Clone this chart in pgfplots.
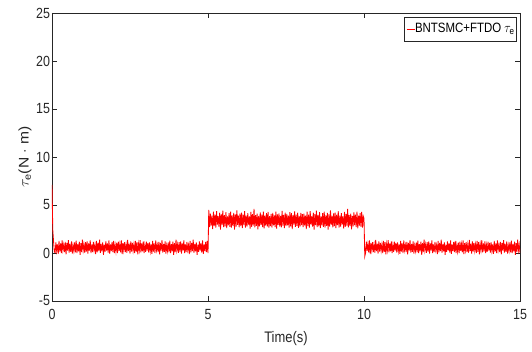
\documentclass[border=0pt]{standalone}
\usepackage{fontspec}
\setmainfont{Liberation Sans}
\usepackage{amsmath}
\usepackage{graphicx}
\usepackage{xcolor}
\usepackage{pgfplots}
\usepackage{pgfplotstable}
\pgfplotsset{compat=1.18}
\newcommand{\vs}[1]{\scalebox{1}[1.18]{#1}}
% segment 1 (0..5 s), segment 2 (5..10 s), segment 3 (10..15 s); dt = 0.025 s
\pgfplotstableread[row sep=\\]{
y\\
7.1\\ 2.4\\ 1.2\\ 0.1\\
0.05\\ 1.1\\ 0.2\\ 0.9\\ -0.1\\ 1.25\\ 0.15\\ 1.0\\ 0.0\\ 1.3\\ 0.3\\ 0.85\\ 0.1\\ 1.15\\ -0.15\\ 1.05\\ 0.25\\ 1.35\\ 0.05\\ 0.95\\ 0.12\\ 1.2\\ -0.05\\ 0.8\\ 0.22\\ 1.1\\ 0.08\\ 1.28\\ 0.0\\ 0.92\\ 0.18\\ 1.18\\ -0.2\\ 1.02\\ 0.1\\ 1.4\\ 0.28\\ 0.88\\ 0.02\\ 1.12\\
0.15\\ 1.2\\ -0.05\\ 1.0\\ 0.25\\ 1.32\\ 0.0\\ 0.9\\ 0.1\\ 1.15\\ 0.3\\ 0.82\\ -0.12\\ 1.25\\ 0.08\\ 1.05\\ 0.2\\ 1.38\\ 0.02\\ 0.95\\ 0.18\\ 1.1\\ -0.18\\ 0.87\\ 0.12\\ 1.22\\ 0.26\\ 1.0\\ 0.04\\ 1.3\\ -0.08\\ 0.9\\ 0.2\\ 1.16\\ 0.1\\ 1.27\\ 0.0\\ 0.84\\ 0.16\\ 1.08\\
0.0\\ 1.18\\ 0.22\\ 0.92\\ 0.06\\ 1.3\\ -0.12\\ 1.02\\ 0.28\\ 1.12\\ 0.1\\ 0.86\\ 0.03\\ 1.36\\ 0.2\\ 0.97\\ -0.06\\ 1.2\\ 0.14\\ 1.06\\ 0.24\\ 0.9\\ 0.0\\ 1.26\\ 0.12\\ 1.14\\ -0.15\\ 0.94\\ 0.3\\ 1.33\\ 0.07\\ 1.0\\ 0.18\\ 1.21\\ -0.02\\ 0.83\\ 0.11\\ 1.17\\ 0.26\\ 1.04\\
0.05\\ 1.1\\ 0.2\\ 0.9\\ -0.1\\ 1.25\\ 0.15\\ 1.0\\ 0.0\\ 1.3\\ 0.3\\ 0.85\\ 0.1\\ 1.15\\ -0.15\\ 1.05\\ 0.25\\ 1.35\\ 0.05\\ 0.95\\ 0.12\\ 1.2\\ -0.05\\ 0.8\\ 0.22\\ 1.1\\ 0.08\\ 1.28\\ 0.0\\ 0.92\\ 0.18\\ 1.18\\ -0.2\\ 1.02\\ 0.1\\ 1.4\\ 0.28\\ 0.88\\ 0.02\\ 1.12\\
0.15\\ 1.2\\ -0.05\\ 1.0\\ 0.25\\ 1.32\\ 0.0\\ 0.9\\ 0.1\\ 1.15\\ 0.3\\ 0.82\\ -0.12\\ 1.25\\ 0.08\\ 1.05\\ 0.2\\ 1.38\\ 0.02\\ 0.95\\ 0.18\\ 1.1\\ -0.18\\ 0.87\\ 0.12\\ 1.22\\ 0.26\\ 1.0\\ 0.04\\ 1.3\\ -0.08\\ 0.9\\ 0.2\\ 1.16\\ 0.1\\ 1.27\\ 0.0\\
4.5\\
2.7\\ 4.1\\ 2.85\\ 3.9\\ 2.5\\ 4.3\\ 2.8\\ 4.0\\ 2.65\\ 4.35\\ 2.95\\ 3.85\\ 2.75\\ 4.2\\ 2.45\\ 4.05\\ 2.9\\ 4.4\\ 2.7\\ 3.95\\ 2.78\\ 4.25\\ 2.6\\ 3.8\\ 2.88\\ 4.15\\ 2.72\\ 4.3\\ 2.65\\ 3.92\\ 2.83\\ 4.18\\ 2.45\\ 4.02\\ 2.75\\ 4.45\\ 2.93\\ 3.88\\ 2.67\\ 4.12\\
2.8\\ 4.2\\ 2.6\\ 4.0\\ 2.9\\ 4.35\\ 2.65\\ 3.9\\ 2.75\\ 4.15\\ 2.95\\ 3.82\\ 2.53\\ 4.28\\ 2.73\\ 4.05\\ 2.85\\ 4.6\\ 2.67\\ 3.95\\ 2.83\\ 4.1\\ 2.47\\ 3.87\\ 2.77\\ 4.22\\ 2.91\\ 4.0\\ 2.69\\ 4.32\\ 2.57\\ 3.9\\ 2.85\\ 4.16\\ 2.75\\ 4.27\\ 2.65\\ 3.84\\ 2.81\\ 4.08\\
2.65\\ 4.18\\ 2.87\\ 3.92\\ 2.71\\ 4.3\\ 2.53\\ 4.02\\ 2.93\\ 4.12\\ 2.75\\ 3.86\\ 2.68\\ 4.38\\ 2.85\\ 3.97\\ 2.59\\ 4.2\\ 2.79\\ 4.06\\ 2.89\\ 3.9\\ 2.65\\ 4.26\\ 2.77\\ 4.14\\ 2.5\\ 3.94\\ 2.95\\ 4.33\\ 2.72\\ 4.0\\ 2.83\\ 4.21\\ 2.63\\ 3.83\\ 2.76\\ 4.17\\ 2.91\\ 4.04\\
2.7\\ 4.1\\ 2.85\\ 3.9\\ 2.5\\ 4.3\\ 2.8\\ 4.0\\ 2.65\\ 4.35\\ 2.95\\ 3.85\\ 2.75\\ 4.2\\ 2.45\\ 4.05\\ 2.9\\ 4.4\\ 2.7\\ 3.95\\ 2.78\\ 4.25\\ 2.6\\ 3.8\\ 2.88\\ 4.15\\ 2.72\\ 4.3\\ 2.65\\ 3.92\\ 2.83\\ 4.18\\ 2.45\\ 4.02\\ 2.75\\ 4.45\\ 2.93\\ 3.88\\ 2.67\\ 4.12\\
2.8\\ 4.2\\ 2.6\\ 4.0\\ 2.9\\ 4.35\\ 2.65\\ 3.9\\ 2.75\\ 4.15\\ 2.95\\ 3.82\\ 2.53\\ 4.28\\ 2.73\\ 4.05\\ 2.85\\ 4.6\\ 2.67\\ 3.95\\ 2.83\\ 4.1\\ 2.47\\ 3.87\\ 2.77\\ 4.22\\ 2.91\\ 4.0\\ 2.69\\ 4.32\\ 2.57\\ 3.9\\ 2.85\\ 4.16\\ 2.75\\ 4.27\\ 2.65\\ 3.84\\ 3.6\\
-0.35\\
0.0\\ 1.18\\ 0.22\\ 0.92\\ 0.06\\ 1.3\\ -0.12\\ 1.02\\ 0.28\\ 1.12\\ 0.1\\ 0.86\\ 0.03\\ 1.36\\ 0.2\\ 0.97\\ -0.06\\ 1.2\\ 0.14\\ 1.06\\ 0.24\\ 0.9\\ 0.0\\ 1.26\\ 0.12\\ 1.14\\ -0.15\\ 0.94\\ 0.3\\ 1.33\\ 0.07\\ 1.0\\ 0.18\\ 1.21\\ -0.02\\ 0.83\\ 0.11\\ 1.17\\ 0.26\\ 1.04\\
0.05\\ 1.1\\ 0.2\\ 0.9\\ -0.1\\ 1.25\\ 0.15\\ 1.0\\ 0.0\\ 1.3\\ 0.3\\ 0.85\\ 0.1\\ 1.15\\ -0.15\\ 1.05\\ 0.25\\ 1.35\\ 0.05\\ 0.95\\ 0.12\\ 1.2\\ -0.05\\ 0.8\\ 0.22\\ 1.1\\ 0.08\\ 1.28\\ 0.0\\ 0.92\\ 0.18\\ 1.18\\ -0.2\\ 1.02\\ 0.1\\ 1.4\\ 0.28\\ 0.88\\ 0.02\\ 1.12\\
0.15\\ 1.2\\ -0.05\\ 1.0\\ 0.25\\ 1.32\\ 0.0\\ 0.9\\ 0.1\\ 1.15\\ 0.3\\ 0.82\\ -0.12\\ 1.25\\ 0.08\\ 1.05\\ 0.2\\ 1.38\\ 0.02\\ 0.95\\ 0.18\\ 1.1\\ -0.18\\ 0.87\\ 0.12\\ 1.22\\ 0.26\\ 1.0\\ 0.04\\ 1.3\\ -0.08\\ 0.9\\ 0.2\\ 1.16\\ 0.1\\ 1.27\\ 0.0\\ 0.84\\ 0.16\\ 1.08\\
0.0\\ 1.18\\ 0.22\\ 0.92\\ 0.06\\ 1.3\\ -0.12\\ 1.02\\ 0.28\\ 1.12\\ 0.1\\ 0.86\\ 0.03\\ 1.36\\ 0.2\\ 0.97\\ -0.06\\ 1.2\\ 0.14\\ 1.06\\ 0.24\\ 0.9\\ 0.0\\ 1.26\\ 0.12\\ 1.14\\ -0.15\\ 0.94\\ 0.3\\ 1.33\\ 0.07\\ 1.0\\ 0.18\\ 1.21\\ -0.02\\ 0.83\\ 0.11\\ 1.17\\ 0.26\\ 1.04\\
0.05\\ 1.1\\ 0.2\\ 0.9\\ -0.1\\ 1.25\\ 0.15\\ 1.0\\ 0.0\\ 1.3\\ 0.3\\ 0.85\\ 0.1\\ 1.15\\ -0.15\\ 1.05\\ 0.25\\ 1.35\\ 0.05\\ 0.95\\ 0.12\\ 1.2\\ -0.05\\ 0.8\\ 0.22\\ 1.1\\ 0.08\\ 1.28\\ 0.0\\ 0.92\\ 0.18\\ 1.18\\ -0.2\\ 1.02\\ 0.1\\ 1.4\\ 0.28\\ 0.88\\ 0.02\\
}\datatable
\definecolor{axgray}{RGB}{38,38,38}
\definecolor{legred}{RGB}{255,0,0}
\begin{document}
\begin{tikzpicture}
\begin{axis}[
  scale only axis,
  width=468bp, height=288bp,
  xmin=0, xmax=15, ymin=-5, ymax=25,
  xtick={0,5,10,15}, ytick={-5,0,5,10,15,20,25},
  tick align=inside,
  major tick length=5bp,
  axis line style={axgray, line width=0.6pt},
  tick style={axgray, line width=0.6pt},
  /pgf/number format/assume math mode=true,
  tick label style={font=\fontsize{12.5}{15}\selectfont, text=axgray},
  xticklabel={\vs{\pgfmathprintnumber{\tick}}},
  yticklabel={\vs{\pgfmathprintnumber{\tick}}},
  xticklabel style={yshift=-5bp},
  yticklabel style={xshift=1.5bp},
  label style={text=axgray},
  xlabel={\vs{Time(s)}},
  xlabel style={font=\fontsize{13}{15}\selectfont, at={(axis description cs:0.5,0)}, anchor=center, yshift=-38bp},
  ylabel={\scalebox{1.12}[1]{$\tau_{\text{e}}$(N $\cdot$ m)}},
  ylabel style={font=\fontsize{14}{16}\selectfont, at={(axis description cs:-0.0577,0.5)}, anchor=center},
  legend style={at={(rel axis cs:0.993,0.987)}, anchor=north east,
    font=\fontsize{11.5}{13}\selectfont, draw=axgray,
    inner xsep=0bp, inner ysep=4.5bp},
  legend cell align=left,
]
\addplot[color=red, line width=0.85pt, legend image code/.code={}]
  table[x expr=\coordindex*0.025, y=y] {\datatable};
\addlegendentry{\textcolor{legred}{\rule[0.45ex]{8.5bp}{1.5pt}}\vs{BNTSMC+FTDO $\tau_{\text{e}}$}}
\end{axis}
\pgfresetboundingbox
\path (current axis.south west) ++(-52bp,-51bp) rectangle ++(532bp,352bp);
\end{tikzpicture}
\end{document}
